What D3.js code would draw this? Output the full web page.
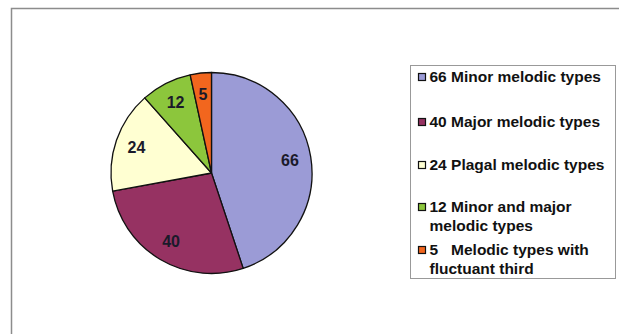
<!DOCTYPE html>
<html>
<head>
<meta charset="utf-8">
<script src="https://cdn.jsdelivr.net/npm/d3@7"></script>
<style>
  html, body { margin: 0; padding: 0; background: #fff; }
  svg { display: block; font-family: "Liberation Sans", Arial, sans-serif; }
</style>
</head>
<body>
<script>
const values = [66, 40, 24, 12, 5];
const labels = [
  ["66 Minor melodic types"],
  ["40 Major melodic types"],
  ["24 Plagal melodic types"],
  ["12 Minor and major", "melodic types"],
  ["5   Melodic types with", "fluctuant third"]
];
const colors = ["#9b9bd6", "#963262", "#ffffd2", "#8cc63c", "#f2661e"];

const width = 619,
  height = 334;

const svg = d3
  .select("body")
  .append("svg")
  .attr("width", width)
  .attr("height", height);

// chart area frame
svg
  .append("rect")
  .attr("x", 11.5)
  .attr("y", 8.5)
  .attr("width", width + 20)
  .attr("height", height + 20)
  .attr("fill", "#fff")
  .attr("stroke", "#8c8c8c")
  .attr("stroke-width", 1.5);

const cx = 211.5,
  cy = 173,
  radius = 100.5;

const pie = d3.pie().sort(null).value(d => d);
const arcs = pie(values);

const arc = d3.arc().innerRadius(0).outerRadius(radius);
const labelArc = d3.arc().innerRadius(radius * 0.79).outerRadius(radius * 0.79);

const g = svg.append("g").attr("transform", `translate(${cx},${cy})`);

g.selectAll("path")
  .data(arcs)
  .enter()
  .append("path")
  .attr("d", arc)
  .attr("fill", (d, i) => colors[i])
  .attr("stroke", "#111")
  .attr("stroke-width", 1.3)
  .attr("stroke-linejoin", "round");

g.selectAll("text")
  .data(arcs)
  .enter()
  .append("text")
  .attr("transform", d => `translate(${labelArc.centroid(d)})`)
  .attr("text-anchor", "middle")
  .attr("dy", "0.36em")
  .attr("font-size", 16)
  .attr("font-weight", "bold")
  .attr("fill", "#1a1a2a")
  .text(d => d.data);

// legend
const legend = svg.append("g");

legend
  .append("rect")
  .attr("x", 410.5)
  .attr("y", 65.5)
  .attr("width", 205)
  .attr("height", 213)
  .attr("fill", "#fff")
  .attr("stroke", "#999")
  .attr("stroke-width", 1);

const rowY = [77, 122, 165, 207, 250];
const LINE_H = 19;

const item = legend
  .selectAll("g.item")
  .data(labels)
  .enter()
  .append("g")
  .attr("class", "item")
  .attr("transform", (d, i) => `translate(0,${rowY[i]})`);

item
  .append("rect")
  .attr("x", 418.5)
  .attr("y", -3.5)
  .attr("width", 7)
  .attr("height", 7)
  .attr("fill", (d, i) => colors[i])
  .attr("stroke", "#111")
  .attr("stroke-width", 1.2);

item
  .append("text")
  .attr("font-size", 15.5)
  .attr("font-weight", "bold")
  .attr("fill", "#111")
  .attr("xml:space", "preserve")
  .style("white-space", "pre")
  .selectAll("tspan")
  .data(d => d)
  .enter()
  .append("tspan")
  .attr("x", 429.5)
  .attr("y", (d, i) => i * LINE_H)
  .attr("dy", "0.35em")
  .text(d => d);
</script>
</body>
</html>
